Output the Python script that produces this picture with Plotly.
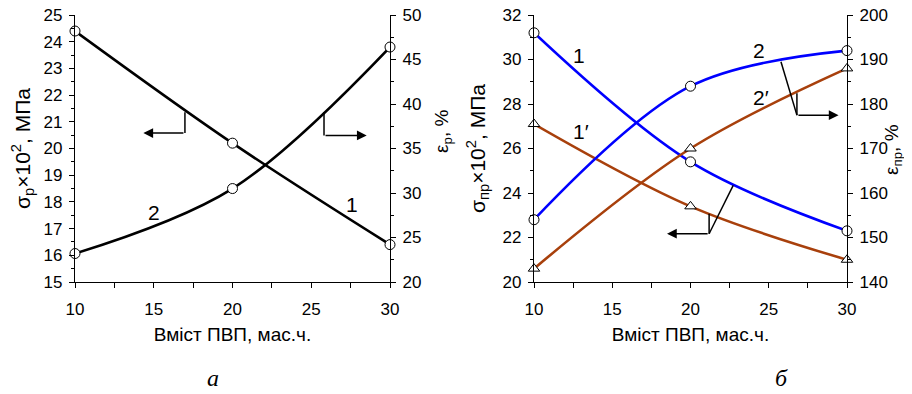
import plotly.graph_objects as go

# ---- data ----
x_vals = [10, 20, 30]
# panel a
sigma_p = [24.4, 20.2, 16.4]        # curve 1, left axis
eps_p = [23.2, 30.5, 46.4]          # curve 2, right axis
# panel б
sigma_pr_1 = [31.2, 25.4, 22.3]     # curve 1 (blue), left axis
sigma_pr_1b = [27.1, 23.4, 21.0]    # curve 1' (brown), left axis
eps_pr_2 = [154, 184, 192]          # curve 2 (blue), right axis
eps_pr_2b = [143, 170, 188]         # curve 2' (brown), right axis

BLUE = "#0000FF"
BROWN = "#A8400C"
FONT = "Liberation Sans"

# page is drawn with an 8px body margin; figure sized/offset to compensate
W, H, OFF = 904, 378, 8

fig = go.Figure()

def curve(x, y, xa, ya, color, symbol):
    fig.add_trace(go.Scatter(
        x=x, y=y, xaxis=xa, yaxis=ya, mode="lines+markers",
        line=dict(color=color, width=2.6, shape="spline", smoothing=1),
        marker=dict(symbol=symbol, size=10, color="white",
                    line=dict(width=1, color="black")),
        cliponaxis=False, showlegend=False))

curve(x_vals, sigma_p, "x", "y", "black", "circle")
curve(x_vals, eps_p, "x", "y2", "black", "circle")
curve(x_vals, sigma_pr_1, "x2", "y3", BLUE, "circle")
curve(x_vals, sigma_pr_1b, "x2", "y3", BROWN, "triangle-up")
curve(x_vals, eps_pr_2, "x2", "y4", BLUE, "circle")
curve(x_vals, eps_pr_2b, "x2", "y4", BROWN, "triangle-up")

tickfont = dict(family=FONT, size=17, color="black")
xtitlefont = dict(family=FONT, size=19, color="black")
ytitlefont = dict(family=FONT, size=21, color="black")

def px_x(p):
    return (p - OFF) / W

def px_y(p):
    return (H - (p - OFF)) / H

def xax(domain, anchor):
    return dict(domain=domain, anchor=anchor, range=[10, 30], dtick=5, automargin=False,
                showline=True, linecolor="black", linewidth=1.2,
                ticks="outside", ticklen=5, tickcolor="black", tickwidth=1.2,
                ticklabelstandoff=6, ticklabeloverflow="allow",
                minor=dict(dtick=2.5, ticks="outside", ticklen=5, tickcolor="black", tickwidth=1.2),
                showgrid=False, zeroline=False, tickfont=tickfont,
                title=dict(text="Вміст ПВП, мас.ч.", font=xtitlefont, standoff=10))

def yax(domain, anchor, rng, dtick, mdtick, title, side="left", overlaying=None):
    d = dict(domain=domain, anchor=anchor, range=rng, dtick=dtick, side=side, automargin=False,
             showline=True, linecolor="black", linewidth=1.2,
             ticks="outside", ticklen=5, tickcolor="black", tickwidth=1.2,
             ticklabelstandoff=3, ticklabeloverflow="allow",
             minor=dict(dtick=mdtick, ticks="outside", ticklen=3, tickcolor="black", tickwidth=1.2),
             showgrid=False, zeroline=False, tickfont=tickfont,
             title=dict(text=title, font=ytitlefont, standoff=11))
    if overlaying:
        d["overlaying"] = overlaying
    return d

ydom = [px_y(282), px_y(15)]
fig.update_layout(
    width=W, height=H, margin=dict(l=0, r=0, t=0, b=0),
    plot_bgcolor="white", paper_bgcolor="white",
    xaxis=xax([px_x(75), px_x(390)], "y"),
    yaxis=yax(ydom, "x", [15, 25], 1, 0.5, "σ<sub>р</sub>×10<sup>2</sup>, МПа"),
    yaxis2=yax(ydom, "x", [20, 50], 5, 2.5, "", side="right", overlaying="y"),
    xaxis2=xax([px_x(534), px_x(847)], "y3"),
    yaxis3=yax(ydom, "x2", [20, 32], 2, 1, "σ<sub>пр</sub>×10<sup>2</sup>, МПа"),
    yaxis4=yax(ydom, "x2", [140, 200], 10, 5, "", side="right", overlaying="y3"),
)

# right-axis titles placed explicitly (rotated)
rfont = dict(family=FONT, size=19, color="black")
fig.add_annotation(x=px_x(443), y=px_y(132), xref="paper", yref="paper",
                   text="ε<sub>р</sub>, %", textangle=-90, showarrow=False,
                   xanchor="center", yanchor="middle", font=rfont)
fig.add_annotation(x=px_x(893), y=px_y(150), xref="paper", yref="paper",
                   text="ε<sub>пр</sub>, %", textangle=-90, showarrow=False,
                   xanchor="center", yanchor="middle", font=rfont)

# leader lines
def seg(x0, y0, x1, y1, xr, yr):
    fig.add_shape(type="line", x0=x0, y0=y0, x1=x1, y1=y1, xref=xr, yref=yr,
                  line=dict(color="black", width=1.5))

def arrow(x0, y, x1, xr, yr):
    fig.add_annotation(x=x1, y=y, ax=x0, ay=y, xref=xr, yref=yr, axref=xr, ayref=yr,
                       showarrow=True, arrowhead=2, arrowsize=1.3, arrowwidth=1.5,
                       arrowcolor="black", text="")

# panel a
seg(16.98, 21.36, 16.98, 20.58, "x", "y")
arrow(16.98, 20.58, 14.34, "x", "y")
seg(25.81, 39.09, 25.81, 36.47, "x", "y2")
arrow(25.81, 36.47, 28.52, "x", "y2")
# panel б
seg(22.73, 24.34, 21.19, 22.17, "x2", "y3")
seg(21.19, 23.07, 21.19, 22.17, "x2", "y3")
arrow(21.19, 22.17, 18.5, "x2", "y3")
seg(25.78, 29.90, 26.80, 27.50, "x2", "y3")
seg(26.80, 28.48, 26.80, 27.50, "x2", "y3")
arrow(26.80, 27.50, 29.46, "x2", "y3")

labfont = dict(family=FONT, size=21, color="black")
def lab(x, y, t, xr, yr):
    fig.add_annotation(x=x, y=y, text=t, xref=xr, yref=yr, showarrow=False, font=labfont)

lab(27.6, 17.9, "1", "x", "y")
lab(15.0, 17.6, "2", "x", "y")
lab(12.9, 30.2, "1", "x2", "y3")
lab(13.0, 26.75, "1′", "x2", "y3")
lab(24.4, 30.4, "2", "x2", "y3")
lab(24.5, 28.3, "2′", "x2", "y3")

pfont = dict(family="Liberation Serif", size=24, color="black")
fig.add_annotation(x=px_x(213), y=px_y(378), xref="paper", yref="paper", text="<i>а</i>",
                   showarrow=False, xanchor="center", yanchor="middle", font=pfont)
fig.add_annotation(x=px_x(781), y=px_y(378), xref="paper", yref="paper", text="<i>б</i>",
                   showarrow=False, xanchor="center", yanchor="middle", font=pfont)

fig.write_html("out.html")
